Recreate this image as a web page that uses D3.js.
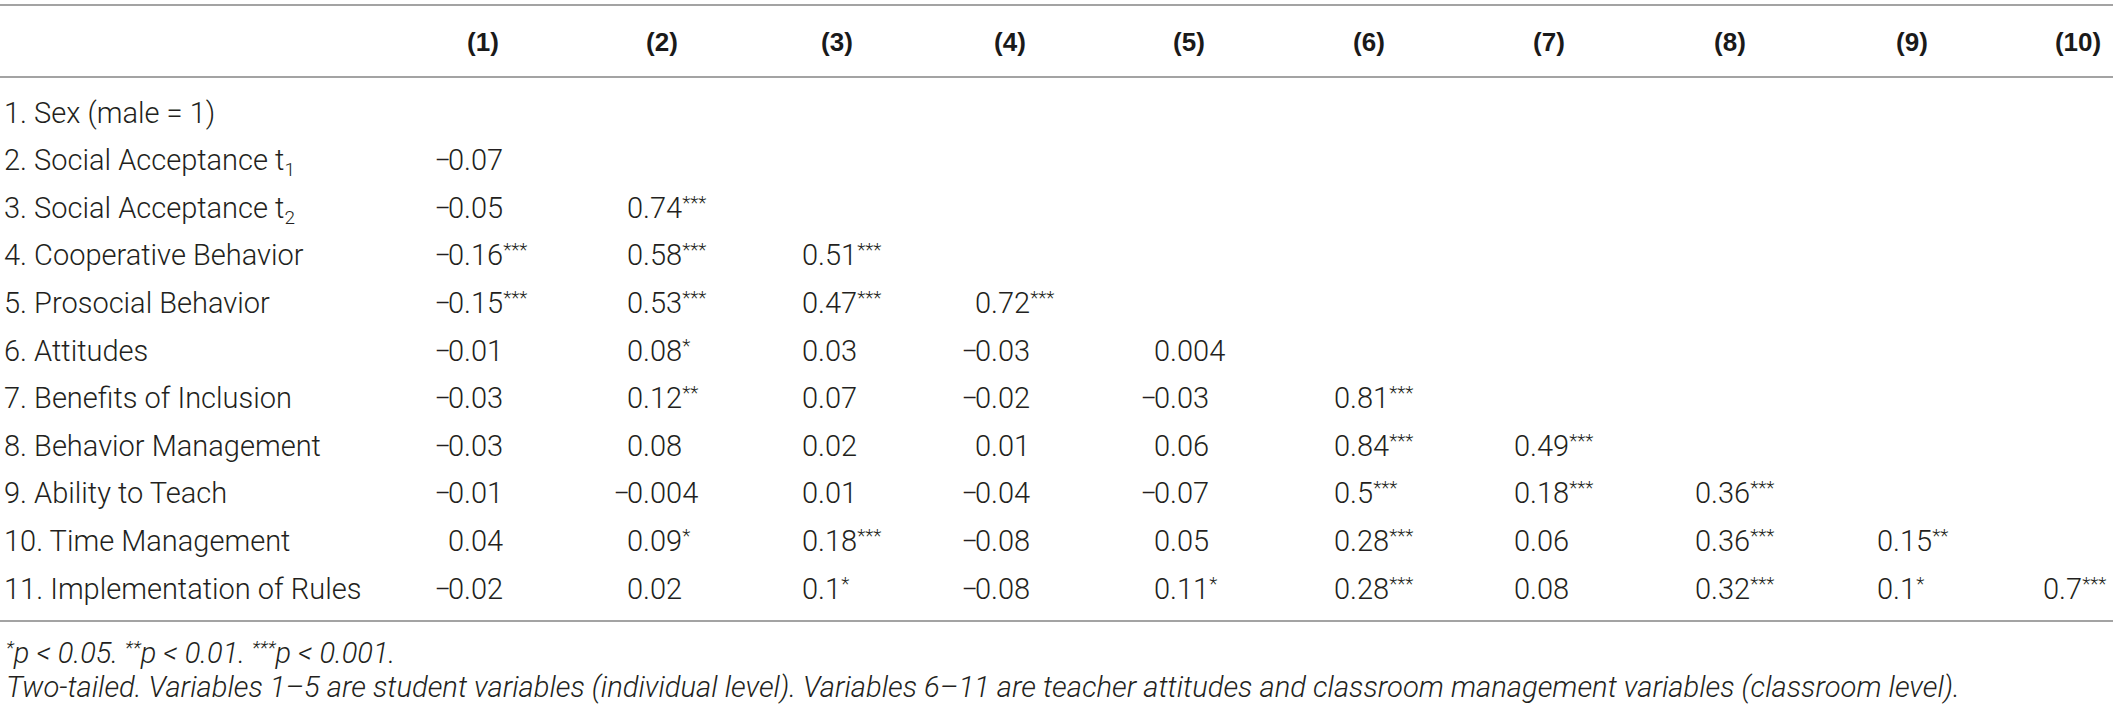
<!DOCTYPE html>
<html>
<head>
<meta charset="utf-8">
<script src="https://cdn.jsdelivr.net/npm/d3@7"></script>
<style>
  body { margin: 0; background: #fff; }
</style>
</head>
<body>
<script>
// column headers
const columns = ["(1)", "(2)", "(3)", "(4)", "(5)", "(6)", "(7)", "(8)", "(9)", "(10)"]

// row labels (sub = subscript part)
const rowLabels = [
  "1. Sex (male = 1)",
  "2. Social Acceptance t",
  "3. Social Acceptance t",
  "4. Cooperative Behavior",
  "5. Prosocial Behavior",
  "6. Attitudes",
  "7. Benefits of Inclusion",
  "8. Behavior Management",
  "9. Ability to Teach",
  "10. Time Management",
  "11. Implementation of Rules"
]
const rowSubs = ["", "1", "2", "", "", "", "", "", "", "", ""]

// correlations, lower triangle
const corr = [
  [],
  [-0.07],
  [-0.05, 0.74],
  [-0.16, 0.58, 0.51],
  [-0.15, 0.53, 0.47, 0.72],
  [-0.01, 0.08, 0.03, -0.03, 0.004],
  [-0.03, 0.12, 0.07, -0.02, -0.03, 0.81],
  [-0.03, 0.08, 0.02, 0.01, 0.06, 0.84, 0.49],
  [-0.01, -0.004, 0.01, -0.04, -0.07, 0.5, 0.18, 0.36],
  [0.04, 0.09, 0.18, -0.08, 0.05, 0.28, 0.06, 0.36, 0.15],
  [-0.02, 0.02, 0.1, -0.08, 0.11, 0.28, 0.08, 0.32, 0.1, 0.7]
]

// number of significance stars per cell
const stars = [
  [],
  [0],
  [0, 3],
  [3, 3, 3],
  [3, 3, 3, 3],
  [0, 1, 0, 0, 0],
  [0, 2, 0, 0, 0, 3],
  [0, 0, 0, 0, 0, 3, 3],
  [0, 0, 0, 0, 0, 3, 3, 3],
  [0, 1, 3, 0, 0, 3, 0, 3, 2],
  [0, 0, 1, 0, 1, 3, 0, 3, 1, 3]
]

const note1 = [["*", "p < 0.05. "], ["**", "p < 0.01. "], ["***", "p < 0.001."]]
const note2 = "Two-tailed. Variables 1–5 are student variables (individual level). Variables 6–11 are teacher attitudes and classroom management variables (classroom level)."

let width = 2117
let height = 707
let bodyFont = "Roboto, 'Liberation Sans', sans-serif"
let textColor = "#231f20"
let ruleColor = "#a3a3a3"

// x anchor of each column (where a positive value starts)
let x = d3.scaleOrdinal()
  .domain(columns)
  .range([448, 627, 802, 975, 1154, 1334, 1514, 1695, 1877, 2043])

// baseline of each row
let y = d3.scalePoint()
  .domain(rowLabels.map((d, i) => i))
  .range([122.5, 598.5])

const svg = d3.select("body").append("svg")
  .attr("width", width)
  .attr("height", height)
  .attr("viewBox", [0, 0, width, height])

// rules
svg.append("g")
    .attr("stroke", ruleColor)
    .attr("stroke-width", 2)
  .selectAll("line")
  .data([5, 77, 621])
  .join("line")
    .attr("x1", 0)
    .attr("x2", 2113)
    .attr("y1", d => d)
    .attr("y2", d => d)

// header
svg.append("g")
    .attr("font-family", "'Liberation Sans', Arial, sans-serif")
    .attr("font-weight", "bold")
    .attr("font-size", 26)
    .attr("fill", "#1a1a1a")
    .attr("text-anchor", "middle")
  .selectAll("text")
  .data(columns)
  .join("text")
    .attr("x", d => x(d) + 35)
    .attr("y", 51)
    .text(d => d)

// row labels
const labels = svg.append("g")
    .attr("font-family", bodyFont)
    .attr("font-weight", 300)
    .attr("font-size", 29)
    .attr("fill", textColor)
  .selectAll("text")
  .data(rowLabels)
  .join("text")
    .attr("x", 4)
    .attr("y", (d, i) => y(i))
    .text(d => d)

labels.filter((d, i) => rowSubs[i])
  .append("tspan")
    .attr("font-size", 19)
    .attr("dy", 6)
    .text(d => rowSubs[rowLabels.indexOf(d)])

// cells
let cells = []
corr.forEach((row, i) => row.forEach((v, j) => cells.push({row: i, col: columns[j], value: v, stars: stars[i][j]})))

const cellG = svg.append("g")
    .attr("font-family", bodyFont)
    .attr("font-weight", 300)
    .attr("font-size", 29)
    .attr("fill", textColor)

// minus sign hangs to the left of the anchor
cellG.selectAll("text.minus")
  .data(cells.filter(d => d.value < 0))
  .join("text")
    .attr("class", "minus")
    .attr("text-anchor", "end")
    .attr("x", d => x(d.col) + 3)
    .attr("y", d => y(d.row))
    .text("\u2212")

const val = cellG.selectAll("text.val")
  .data(cells)
  .join("text")
    .attr("class", "val")
    .attr("x", d => x(d.col))
    .attr("y", d => y(d.row))
    .text(d => String(Math.abs(d.value)))

val.filter(d => d.stars > 0)
  .append("tspan")
    .attr("font-size", 19)
    .attr("dy", -9)
    .text(d => "*".repeat(d.stars))

// notes
const n1 = svg.append("text")
    .attr("font-family", bodyFont)
    .attr("font-weight", 300)
    .attr("font-style", "italic")
    .attr("font-size", 29)
    .attr("fill", textColor)
    .attr("x", 6)
    .attr("y", 663)

note1.forEach(([s, t]) => {
  n1.append("tspan").attr("font-size", 19).attr("dy", -9).text(s)
  n1.append("tspan").attr("dy", 9).text(t)
})

svg.append("text")
    .attr("font-family", bodyFont)
    .attr("font-weight", 300)
    .attr("font-style", "italic")
    .attr("font-size", 29.2)
    .attr("fill", textColor)
    .attr("x", 6)
    .attr("y", 697)
    .text(note2)
</script>
</body>
</html>
